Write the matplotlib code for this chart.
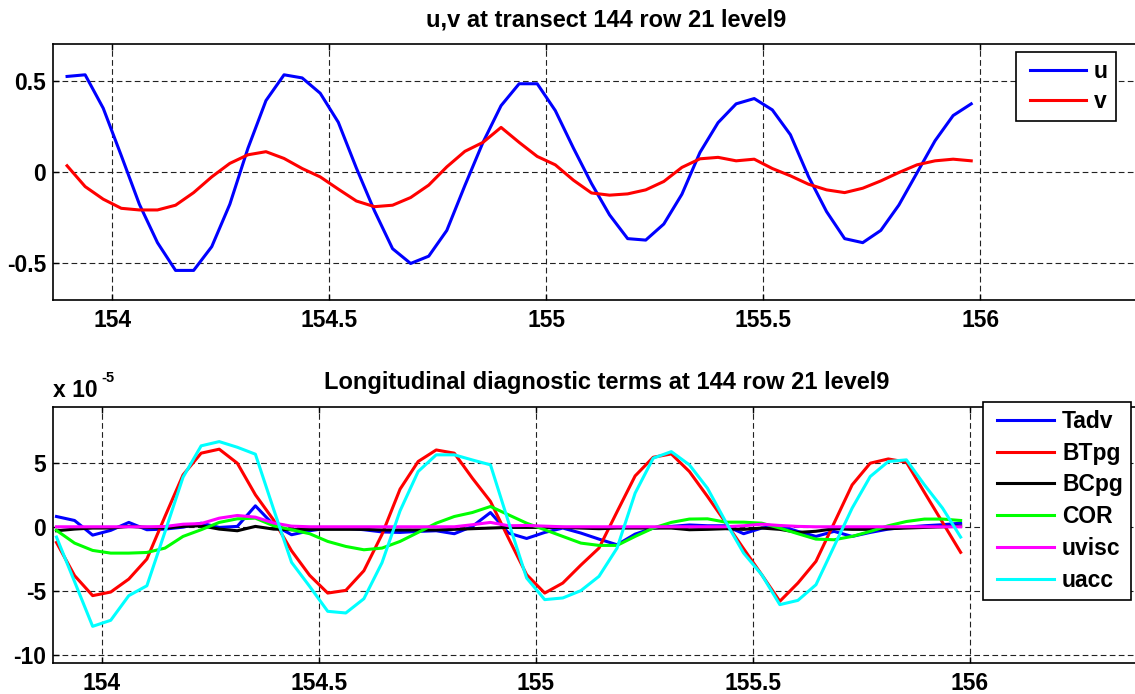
import numpy as np
import matplotlib
matplotlib.use("Agg")
import matplotlib.pyplot as plt
from matplotlib.legend_handler import HandlerLine2D

plt.rcParams["font.family"] = ["Liberation Sans", "DejaVu Sans"]
plt.rcParams["font.weight"] = "bold"
plt.rcParams["lines.scale_dashes"] = False

# hourly samples (model day)
t_start = 153.8958
t_step = 1.0 / 24.0
n_samples = 51

# velocity components (m/s)
u = [0.524, 0.533, 0.35, 0.09, -0.176, -0.386, -0.538, -0.538, -0.408, -0.176,
     0.13, 0.392, 0.533, 0.516, 0.432, 0.273, 0.022, -0.212, -0.419, -0.5,
     -0.46, -0.319, -0.073, 0.163, 0.364, 0.484, 0.484, 0.337, 0.132, -0.062,
     -0.234, -0.364, -0.372, -0.284, -0.121, 0.108, 0.271, 0.374, 0.403, 0.341,
     0.205, -0.024, -0.216, -0.364, -0.386, -0.319, -0.18, -0.004, 0.172, 0.31,
     0.374]
v = [0.035, -0.079, -0.148, -0.198, -0.207, -0.207, -0.181, -0.112, -0.026, 0.048,
     0.095, 0.112, 0.075, 0.02, -0.026, -0.093, -0.158, -0.189, -0.181, -0.139,
     -0.071, 0.029, 0.114, 0.163, 0.245, 0.163, 0.086, 0.04, -0.044, -0.114,
     -0.126, -0.119, -0.097, -0.051, 0.026, 0.073, 0.081, 0.062, 0.071, 0.02,
     -0.02, -0.066, -0.097, -0.112, -0.088, -0.048, -0.002, 0.04, 0.062, 0.071,
     0.062]

# momentum balance terms, in units of 1e-5 m/s^2
tadv = [0.8, 0.49, -0.65, -0.28, 0.34, -0.23, -0.18, -0.03, 0.28, -0.05,
        0.03, 1.63, 0.16, -0.62, -0.31, -0.1, -0.1, -0.23, -0.4, -0.44,
        -0.36, -0.31, -0.54, 0.03, 1.11, -0.49, -0.91, -0.44, -0.1, -0.49,
        -0.96, -1.4, -0.57, -0.1, 0.03, 0.14, 0.08, 0.08, -0.54, -0.1,
        0.08, -0.36, -0.75, -0.36, -0.75, -0.44, -0.18, -0.03, 0.08, 0.16,
        0.28]
btpg = [-1.22, -3.8, -5.36, -5.08, -4.07, -2.51, 0.8, 4.04, 5.73, 6.04,
        4.95, 2.49, 0.54, -1.87, -3.78, -5.16, -4.95, -3.42, -0.6, 2.93,
        5.08, 5.98, 5.73, 3.78, 1.97, -0.9, -3.73, -5.16, -4.38, -2.98,
        -1.66, 1.17, 3.96, 5.41, 5.67, 4.3, 2.36, 0.34, -1.71, -3.73,
        -5.8, -4.38, -2.69, 0.28, 3.26, 4.95, 5.28, 5.03, 2.67, 0.34,
        -1.99]
bcpg = [-0.31, -0.18, -0.1, -0.1, 0.03, -0.05, -0.1, 0.03, 0.08, -0.18,
        -0.31, 0.03, -0.18, -0.23, -0.2, -0.2, -0.2, -0.2, -0.25, -0.25,
        -0.25, -0.25, -0.2, -0.15, -0.1, -0.05, -0.05, -0.05, -0.05, -0.1,
        -0.15, -0.1, -0.1, -0.1, -0.1, -0.23, -0.2, -0.15, -0.2, -0.1,
        -0.2, -0.44, -0.35, -0.15, -0.2, -0.2, -0.15, -0.1, -0.05, 0.0,
        0.05]
cor = [-0.28, -1.27, -1.84, -2.05, -2.05, -2.0, -1.66, -0.75, -0.23, 0.34,
       0.62, 0.67, 0.08, -0.23, -0.54, -1.14, -1.53, -1.79, -1.66, -1.14,
       -0.44, 0.28, 0.8, 1.11, 1.58, 0.93, 0.28, -0.23, -0.75, -1.27,
       -1.45, -1.45, -0.75, -0.1, 0.34, 0.6, 0.62, 0.36, 0.36, 0.28,
       -0.1, -0.54, -0.96, -1.01, -0.75, -0.36, 0.08, 0.41, 0.6, 0.6,
       0.49]
uvisc = [0.0, 0.0, 0.0, 0.0, 0.0, 0.0, 0.02, 0.2, 0.25, 0.67,
         0.88, 0.75, 0.3, 0.05, 0.0, 0.0, 0.0, 0.0, 0.0, 0.0,
         0.0, 0.0, 0.0, 0.16, 0.34, 0.08, 0.1, 0.05, 0.0, 0.0,
         0.0, 0.0, 0.0, 0.0, 0.0, 0.0, 0.0, 0.0, 0.08, 0.2,
         0.1, 0.03, 0.0, 0.0, 0.0, 0.0, 0.0, 0.0, 0.0, 0.0,
         0.0]
uacc = [-0.8, -4.27, -7.75, -7.28, -5.36, -4.59, -0.4, 3.86, 6.3, 6.63,
        6.19, 5.65, 1.4, -2.77, -4.64, -6.58, -6.71, -5.6, -2.8, 1.24,
        4.3, 5.6, 5.6, 5.2, 4.82, 0.36, -3.99, -5.67, -5.54, -4.97,
        -3.86, -1.66, 2.62, 5.34, 5.85, 4.82, 3.0, 0.41, -2.05, -3.73,
        -6.06, -5.73, -4.51, -1.53, 1.45, 3.91, 5.08, 5.21, 3.26, 1.45,
        -0.8]

xticks = [154, 154.5, 155, 155.5, 156]
xtick_labels = ["154", "154.5", "155", "155.5", "156"]
top_yticks = [-0.5, 0, 0.5]
top_ytick_labels = ["-0.5", "0", "0.5"]
bot_yticks = [-10, -5, 0, 5]
bot_ytick_labels = ["-10", "-5", "0", "5"]

time = t_start + t_step * np.arange(n_samples)

W, H = 1135, 694
fig = plt.figure(figsize=(W / 100, H / 100), dpi=100)


def px_axes(left, top, right, bottom):
    return fig.add_axes([left / W, 1 - bottom / H, (right - left) / W, (bottom - top) / H])


TICK_FS = 16.5
TITLE_FS = 17
LW = 2.2


def style_axes(ax, yticks, ylabels):
    ax.set_xticks(xticks)
    ax.set_xticklabels(xtick_labels)
    ax.set_yticks(yticks)
    ax.set_yticklabels(ylabels)
    ax.tick_params(direction="in", length=4, width=1, labelsize=TICK_FS,
                   top=True, right=True)
    ax.tick_params(axis="x", pad=6.5)
    ax.tick_params(axis="y", pad=5)
    for lab in ax.get_xticklabels() + ax.get_yticklabels():
        lab.set_fontweight("bold")
    for sp in ax.spines.values():
        sp.set_linewidth(1.2)
    ax.grid(True, color="#222222", linewidth=0.8, linestyle=(0, (4.1, 2.4)))
    ax.set_axisbelow(True)


LEG_FS = 16.5
fs_px = LEG_FS * 100 / 72


def add_legend(ax, x_px, y_px, spacing, line_px):
    leg = ax.legend(loc="upper left", bbox_to_anchor=(x_px / W, 1 - y_px / H),
                    bbox_transform=fig.transFigure, borderaxespad=0,
                    prop={"size": LEG_FS, "weight": "bold"},
                    fancybox=False, framealpha=1, edgecolor="black",
                    borderpad=0.35, labelspacing=spacing,
                    handlelength=(line_px + 6) / fs_px, handletextpad=0.35,
                    handler_map={matplotlib.lines.Line2D: HandlerLine2D(xpad=6 / fs_px)})
    leg.get_frame().set_linewidth(1.2)
    return leg


# --- upper panel: velocities
ax1 = px_axes(53, 44.3, 1160, 300)
ax1.plot(time, u, color="#0000ff", lw=LW, label="u")
ax1.plot(time, v, color="#ff0000", lw=LW, label="v")
ax1.set_xlim(153.8634, 156.4141)
ax1.set_ylim(-0.7, 0.7)
style_axes(ax1, top_yticks, top_ytick_labels)
fig.text(606.5 / W, 1 - 20 / H, "u,v at transect 144 row 21 level9",
         ha="center", va="center", fontsize=TITLE_FS, fontweight="bold")
add_legend(ax1, 1016, 51.7, 0.3, 56)

# --- lower panel: diagnostic terms
ax2 = px_axes(53, 407.3, 1160, 662.7)
ax2.plot(time, tadv, color="#0000ff", lw=LW, label="Tadv")
ax2.plot(time, btpg, color="#ff0000", lw=LW, label="BTpg")
ax2.plot(time, bcpg, color="#000000", lw=LW, label="BCpg")
ax2.plot(time, cor, color="#00ff00", lw=LW, label="COR")
ax2.plot(time, uvisc, color="#ff00ff", lw=LW, label="uvisc")
ax2.plot(time, uacc, color="#00ffff", lw=LW, label="uacc")
ax2.set_xlim(153.8878, 156.4385)
ax2.set_ylim(-10.58, 9.3)
style_axes(ax2, bot_yticks, bot_ytick_labels)
fig.text(606.5 / W, 1 - 382.7 / H,
         "Longitudinal diagnostic terms at 144 row 21 level9",
         ha="center", va="center", fontsize=TITLE_FS, fontweight="bold")
fig.text(53 / W, 1 - 397 / H, "x 10", ha="left", va="baseline",
         fontsize=16.5, fontweight="bold")
fig.text(101 / W, 1 - 382 / H, "-5", ha="left", va="baseline",
         fontsize=10.5, fontweight="bold")
add_legend(ax2, 983, 402, 0.38, 57)

fig.savefig("out.png", dpi=100)
